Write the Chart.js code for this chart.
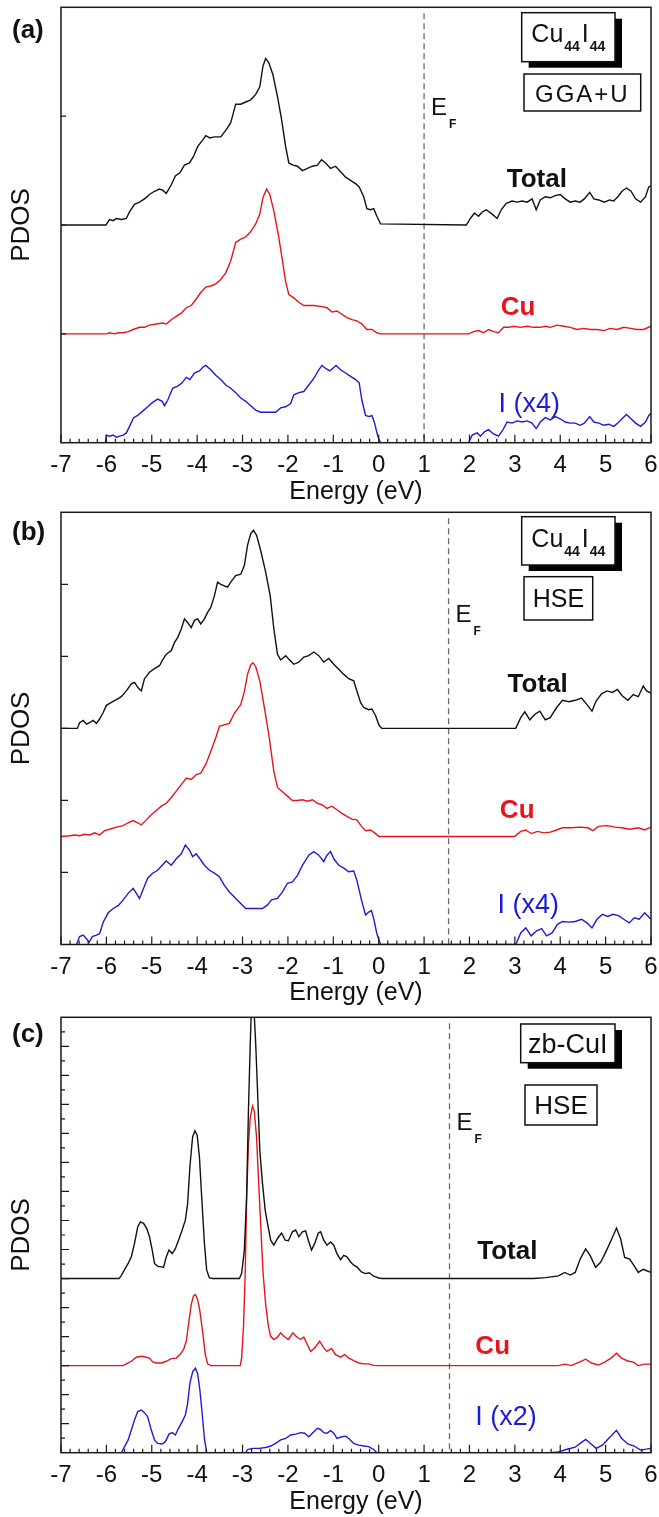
<!DOCTYPE html>
<html>
<head>
<meta charset="utf-8">
<script src="https://cdn.jsdelivr.net/npm/chart.js@4.4.1/dist/chart.umd.min.js"></script>
<style>
html,body{margin:0;padding:0;background:#fff;}
#wrap{position:relative;width:659px;height:1517px;overflow:hidden;background:#fff;}
canvas{position:absolute;left:0;}
</style>
</head>
<body>
<div id="wrap">
<canvas id="ca" width="659" height="505" style="top:0px;width:659px;height:505px"></canvas>
<canvas id="cb" width="659" height="505" style="top:505px;width:659px;height:505px"></canvas>
<canvas id="cc" width="659" height="507" style="top:1010px;width:659px;height:507px"></canvas>
</div>
<script>
// ---------------- DATA (energy in eV, PDOS in arbitrary units, unshifted) ----------------
const energyMin = -7, energyMax = 6;

// Panel (a) Cu44I44, GGA+U
const aTotalE = [-7,-6.01,-5.93,-5.85,-5.78,-5.67,-5.56,-5.49,-5.38,-5.27,-5.16,-5.05,-4.94,-4.83,-4.76,-4.68,-4.57,-4.48,-4.38,-4.28,-4.17,-4.08,-3.99,-3.88,-3.81,-3.72,-3.62,-3.48,-3.37,-3.26,-3.15,-3.04,-2.93,-2.82,-2.71,-2.62,-2.55,-2.49,-2.42,-2.33,-2.23,-2.14,-2.05,-1.98,-1.89,-1.79,-1.68,-1.57,-1.46,-1.35,-1.26,-1.17,-1.06,-0.95,-0.84,-0.73,-0.62,-0.51,-0.43,-0.33,-0.26,-0.18,-0.11,-0.04,0.04,1.93,2.02,2.11,2.20,2.28,2.37,2.50,2.61,2.70,2.81,2.94,3.05,3.16,3.27,3.38,3.47,3.56,3.67,3.78,3.89,4.00,4.11,4.22,4.33,4.44,4.53,4.65,4.74,4.85,4.97,5.09,5.18,5.27,5.36,5.46,5.56,5.66,5.77,5.88,5.95,6.00];
const aTotalV = [0,0,0.05,0.04,0.06,0.05,0.06,0.12,0.19,0.21,0.24,0.28,0.31,0.33,0.32,0.29,0.37,0.45,0.48,0.55,0.57,0.63,0.72,0.78,0.82,0.80,0.81,0.81,0.87,0.94,1.11,1.11,1.13,1.15,1.20,1.27,1.46,1.53,1.49,1.38,1.18,0.97,0.72,0.57,0.55,0.54,0.50,0.52,0.54,0.55,0.60,0.57,0.52,0.54,0.49,0.44,0.41,0.38,0.35,0.26,0.15,0.14,0.15,0.08,0.01,0,0.06,0.11,0.08,0.12,0.14,0.10,0.06,0.14,0.20,0.22,0.21,0.22,0.21,0.24,0.14,0.23,0.26,0.25,0.27,0.28,0.24,0.21,0.22,0.21,0.24,0.30,0.24,0.23,0.21,0.23,0.22,0.26,0.31,0.34,0.31,0.24,0.21,0.26,0.35,0.36];
const aCuE = [-7,-6.00,-5.93,-5.82,-5.74,-5.63,-5.52,-5.41,-5.27,-5.16,-5.05,-4.90,-4.76,-4.68,-4.57,-4.46,-4.35,-4.24,-4.13,-4.02,-3.92,-3.81,-3.70,-3.59,-3.48,-3.37,-3.26,-3.15,-3.04,-2.93,-2.82,-2.71,-2.62,-2.55,-2.47,-2.40,-2.31,-2.21,-2.12,-2.05,-1.98,-1.87,-1.76,-1.65,-1.54,-1.43,-1.25,-1.14,-1.03,-0.92,-0.81,-0.70,-0.59,-0.48,-0.37,-0.26,-0.15,-0.04,0.04,1.98,2.09,2.20,2.31,2.42,2.53,2.64,2.75,2.86,2.97,3.12,3.27,3.41,3.56,3.67,3.78,3.93,4.08,4.22,4.37,4.52,4.66,4.81,4.96,5.10,5.25,5.40,5.55,5.69,5.84,6.00];
const aCuV = [0,0,0.01,0,0.01,0.01,0.02,0.04,0.06,0.06,0.08,0.09,0.10,0.09,0.13,0.16,0.19,0.24,0.26,0.32,0.38,0.43,0.44,0.46,0.50,0.56,0.67,0.84,0.87,0.89,0.94,1.01,1.10,1.25,1.33,1.28,1.13,0.91,0.67,0.48,0.36,0.33,0.29,0.26,0.26,0.26,0.25,0.24,0.20,0.21,0.18,0.15,0.13,0.12,0.09,0.04,0.04,0.01,0,0,0.02,0.03,0.01,0.04,0.02,0.01,0.06,0.06,0.07,0.06,0.07,0.06,0.06,0.07,0.06,0.08,0.07,0.06,0.04,0.05,0.04,0.04,0.03,0.05,0.04,0.06,0.05,0.04,0.04,0.07];
const aIE = [-6.02,-6.00,-5.93,-5.85,-5.78,-5.71,-5.63,-5.56,-5.49,-5.40,-5.31,-5.20,-5.09,-4.98,-4.87,-4.77,-4.72,-4.65,-4.54,-4.43,-4.33,-4.24,-4.16,-4.06,-3.95,-3.86,-3.81,-3.70,-3.59,-3.48,-3.37,-3.26,-3.15,-3.04,-2.93,-2.82,-2.71,-2.60,-2.27,-2.16,-2.05,-1.94,-1.87,-1.76,-1.65,-1.54,-1.43,-1.32,-1.25,-1.16,-1.08,-1.02,-0.94,-0.84,-0.73,-0.62,-0.51,-0.43,-0.37,-0.29,-0.21,-0.15,-0.09,-0.02,0.04,1.98,2.06,2.17,2.24,2.33,2.42,2.53,2.64,2.74,2.83,2.94,3.05,3.16,3.27,3.38,3.47,3.56,3.67,3.78,3.89,4.00,4.11,4.22,4.33,4.44,4.53,4.65,4.74,4.85,4.96,5.07,5.18,5.27,5.36,5.46,5.56,5.66,5.77,5.88,5.95,6.00];
const aIV = [0,0.07,0.06,0.07,0.05,0.06,0.07,0.09,0.15,0.23,0.25,0.29,0.33,0.37,0.40,0.38,0.34,0.39,0.50,0.52,0.55,0.60,0.58,0.64,0.66,0.70,0.71,0.67,0.62,0.58,0.53,0.50,0.46,0.41,0.38,0.34,0.30,0.28,0.28,0.32,0.33,0.36,0.44,0.46,0.47,0.53,0.59,0.67,0.71,0.68,0.66,0.68,0.71,0.67,0.64,0.61,0.58,0.55,0.39,0.25,0.24,0.25,0.18,0.06,0,0,0.07,0.09,0.06,0.10,0.12,0.08,0.06,0.12,0.19,0.18,0.20,0.19,0.20,0.18,0.13,0.19,0.23,0.21,0.24,0.22,0.19,0.18,0.18,0.16,0.18,0.24,0.19,0.18,0.16,0.17,0.15,0.18,0.22,0.26,0.22,0.18,0.15,0.19,0.25,0.27];

// Panel (b) Cu44I44, HSE
const bTotalE = [-7,-6.64,-6.59,-6.51,-6.44,-6.37,-6.29,-6.22,-6.15,-6.07,-6.00,-5.89,-5.78,-5.67,-5.56,-5.45,-5.38,-5.31,-5.23,-5.16,-5.05,-4.94,-4.83,-4.76,-4.68,-4.57,-4.50,-4.43,-4.35,-4.28,-4.21,-4.13,-4.06,-3.99,-3.92,-3.84,-3.77,-3.70,-3.62,-3.55,-3.48,-3.40,-3.33,-3.26,-3.15,-3.04,-2.96,-2.89,-2.82,-2.76,-2.69,-2.60,-2.49,-2.39,-2.31,-2.23,-2.16,-2.05,-1.98,-1.87,-1.76,-1.65,-1.54,-1.43,-1.32,-1.21,-1.10,-0.99,-0.88,-0.77,-0.66,-0.55,-0.48,-0.40,-0.33,-0.22,-0.15,-0.07,0.01,0.07,3.02,3.13,3.22,3.33,3.45,3.55,3.67,3.78,3.92,4.05,4.19,4.33,4.47,4.59,4.70,4.79,4.91,5.03,5.15,5.26,5.37,5.49,5.61,5.72,5.83,5.90,6.00];
const bTotalV = [0,0,0.08,0.11,0.06,0.08,0.11,0.07,0.13,0.22,0.32,0.36,0.40,0.44,0.52,0.62,0.64,0.57,0.52,0.69,0.78,0.83,0.87,0.95,1.03,1.08,1.19,1.26,1.38,1.52,1.47,1.40,1.50,1.52,1.45,1.52,1.61,1.68,1.84,2.03,2.00,1.98,1.96,2.03,2.12,2.14,2.26,2.54,2.70,2.75,2.68,2.47,2.17,1.84,1.38,1.03,0.95,1.01,0.96,0.89,0.92,0.99,1.01,1.06,1.01,0.92,0.97,0.89,0.82,0.75,0.69,0.66,0.52,0.36,0.29,0.26,0.27,0.18,0.04,0,0,0.15,0.23,0.12,0.20,0.24,0.12,0.15,0.29,0.39,0.37,0.39,0.42,0.33,0.24,0.38,0.48,0.52,0.50,0.54,0.45,0.39,0.47,0.44,0.59,0.52,0.49];
const bCuE = [-7,-6.80,-6.69,-6.59,-6.48,-6.37,-6.26,-6.15,-6.04,-5.93,-5.78,-5.63,-5.52,-5.41,-5.31,-5.23,-5.12,-5.01,-4.90,-4.79,-4.68,-4.57,-4.46,-4.35,-4.24,-4.13,-4.02,-3.92,-3.81,-3.70,-3.59,-3.51,-3.40,-3.29,-3.18,-3.11,-3.04,-2.96,-2.89,-2.82,-2.77,-2.71,-2.62,-2.53,-2.42,-2.31,-2.23,-2.12,-2.01,-1.90,-1.79,-1.68,-1.57,-1.46,-1.35,-1.25,-1.14,-1.03,-0.92,-0.81,-0.70,-0.59,-0.48,-0.38,-0.29,-0.18,-0.09,0.01,2.99,3.13,3.24,3.36,3.50,3.64,3.78,3.92,4.05,4.24,4.42,4.61,4.72,4.84,5.03,5.21,5.35,5.53,5.72,5.86,6.00];
const bCuV = [0,0.01,0.02,0.01,0.03,0.02,0.05,0.02,0.08,0.10,0.13,0.15,0.19,0.22,0.19,0.16,0.23,0.30,0.36,0.42,0.46,0.54,0.63,0.72,0.81,0.79,0.86,0.88,1.00,1.18,1.37,1.53,1.55,1.57,1.71,1.77,1.83,2.01,2.25,2.38,2.41,2.36,2.16,1.83,1.41,0.90,0.68,0.62,0.56,0.50,0.50,0.51,0.49,0.51,0.46,0.44,0.39,0.42,0.37,0.32,0.28,0.24,0.23,0.14,0.08,0.09,0.05,0,0,0.07,0.09,0.04,0.07,0.05,0.06,0.09,0.12,0.12,0.13,0.12,0.08,0.14,0.15,0.13,0.12,0.10,0.12,0.09,0.13];
const bIE = [-6.66,-6.59,-6.51,-6.44,-6.38,-6.31,-6.22,-6.15,-6.07,-5.96,-5.85,-5.74,-5.63,-5.52,-5.41,-5.34,-5.27,-5.18,-5.09,-4.98,-4.87,-4.77,-4.68,-4.57,-4.46,-4.35,-4.26,-4.17,-4.10,-4.02,-3.94,-3.84,-3.73,-3.62,-3.51,-3.40,-3.29,-3.15,-3.04,-2.93,-2.56,-2.45,-2.36,-2.23,-2.12,-2.01,-1.90,-1.79,-1.68,-1.54,-1.43,-1.32,-1.21,-1.14,-1.06,-0.99,-0.88,-0.77,-0.66,-0.55,-0.48,-0.38,-0.29,-0.22,-0.16,-0.11,-0.04,0.04,3.02,3.13,3.24,3.36,3.48,3.59,3.70,3.82,3.94,4.05,4.19,4.33,4.47,4.59,4.70,4.81,4.93,5.05,5.16,5.28,5.40,5.52,5.63,5.74,5.86,6.00];
const bIV = [0,0.11,0.13,0.08,0.03,0.11,0.13,0.15,0.31,0.44,0.50,0.54,0.62,0.71,0.78,0.71,0.64,0.78,0.92,0.99,1.03,1.10,1.16,1.10,1.19,1.26,1.38,1.31,1.22,1.26,1.19,1.10,1.03,0.99,0.94,0.82,0.73,0.64,0.57,0.50,0.50,0.55,0.62,0.64,0.73,0.85,0.87,0.96,1.10,1.24,1.29,1.24,1.15,1.24,1.29,1.19,1.10,1.06,1.01,1.02,0.89,0.62,0.41,0.45,0.47,0.36,0.15,0,0,0.16,0.23,0.12,0.19,0.22,0.12,0.16,0.28,0.32,0.31,0.32,0.35,0.30,0.23,0.35,0.42,0.39,0.42,0.40,0.35,0.30,0.37,0.35,0.44,0.35];

// Panel (c) zb-CuI, HSE
const cTotalE = [-7,-5.72,-5.67,-5.60,-5.52,-5.45,-5.38,-5.31,-5.25,-5.18,-5.11,-5.05,-4.99,-4.94,-4.87,-4.79,-4.74,-4.68,-4.62,-4.55,-4.48,-4.41,-4.33,-4.26,-4.21,-4.16,-4.10,-4.05,-4.00,-3.95,-3.90,-3.84,-3.79,-3.73,-3.66,-3.07,-3.02,-2.96,-2.91,-2.87,-2.83,-2.78,-2.74,-2.71,-2.67,-2.62,-2.56,-2.50,-2.45,-2.38,-2.31,-2.23,-2.14,-2.06,-1.99,-1.90,-1.83,-1.76,-1.68,-1.61,-1.55,-1.48,-1.41,-1.33,-1.28,-1.21,-1.14,-1.06,-0.99,-0.92,-0.84,-0.77,-0.70,-0.62,-0.55,-0.48,-0.38,-0.29,-0.21,-0.11,0.00,0.07,3.41,3.68,3.96,4.10,4.22,4.33,4.44,4.56,4.66,4.78,4.89,5.00,5.12,5.24,5.33,5.42,5.53,5.63,5.72,5.83,5.92,6.00];
const cTotalV = [0,0,0.11,0.31,0.52,0.75,1.21,1.78,1.95,1.90,1.72,1.44,0.98,0.52,0.42,0.40,0.38,0.75,0.98,0.86,1.03,1.32,1.67,2.01,2.58,3.85,4.88,5.09,4.94,4.19,2.81,1.21,0.29,0.02,0,0,0.17,0.98,2.81,5.80,8.10,10.5,9.02,8.10,6.49,4.42,3.27,2.35,1.90,1.32,1.15,1.38,1.57,1.32,1.30,1.61,1.67,1.44,1.61,1.64,1.32,0.98,1.21,1.57,1.61,1.32,1.15,1.26,1.15,0.86,0.65,0.80,0.75,0.57,0.46,0.40,0.23,0.17,0.20,0.08,0.02,0,0,0.03,0.09,0.21,0.12,0.21,0.67,1.02,0.79,0.39,0.56,0.90,1.31,1.74,1.37,0.73,0.67,0.44,0.21,0.32,0.26,0.21];
const cCuE = [-7,-5.63,-5.56,-5.45,-5.34,-5.23,-5.12,-5.05,-4.98,-4.90,-4.79,-4.68,-4.57,-4.46,-4.38,-4.30,-4.24,-4.19,-4.13,-4.08,-4.04,-3.99,-3.94,-3.88,-3.82,-3.77,-3.70,-3.05,-3.02,-2.98,-2.94,-2.91,-2.87,-2.83,-2.78,-2.74,-2.69,-2.65,-2.60,-2.55,-2.49,-2.43,-2.38,-2.31,-2.23,-2.16,-2.09,-1.99,-1.89,-1.82,-1.72,-1.65,-1.57,-1.50,-1.41,-1.30,-1.21,-1.14,-1.04,-0.95,-0.84,-0.75,-0.66,-0.55,-0.44,-0.33,-0.22,-0.11,-0.02,3.96,4.10,4.24,4.42,4.56,4.70,4.84,4.98,5.12,5.24,5.35,5.49,5.61,5.72,5.86,6.00];
const cCuV = [0,0,0.06,0.15,0.29,0.32,0.29,0.26,0.13,0.09,0.09,0.15,0.24,0.26,0.38,0.55,0.84,1.42,2.11,2.40,2.45,2.28,1.88,1.18,0.38,0.06,0,0,0.26,1.30,3.25,5.78,7.62,8.54,8.94,8.76,7.85,6.47,4.86,3.25,2.10,1.36,1.01,0.90,0.98,1.13,1.01,0.90,1.13,1.01,0.90,0.98,0.72,0.49,0.61,0.84,0.61,0.49,0.59,0.38,0.29,0.38,0.26,0.17,0.09,0.06,0.06,0.01,0,0,0.05,0,0.12,0.22,0.08,0.02,0.12,0.26,0.43,0.26,0.16,0.12,0,0.05,0.05];
const cIE = [-5.67,-5.60,-5.52,-5.45,-5.38,-5.31,-5.23,-5.16,-5.09,-5.01,-4.94,-4.87,-4.77,-4.70,-4.62,-4.55,-4.48,-4.41,-4.33,-4.26,-4.21,-4.16,-4.10,-4.04,-3.99,-3.94,-3.89,-3.84,-3.79,-2.93,-2.89,-2.78,-2.64,-2.49,-2.38,-2.27,-2.16,-2.05,-1.94,-1.83,-1.72,-1.63,-1.54,-1.45,-1.35,-1.28,-1.21,-1.14,-1.06,-0.99,-0.92,-0.81,-0.73,-0.66,-0.55,-0.44,-0.33,-0.22,-0.11,-0.04,3.78,3.96,4.15,4.33,4.44,4.56,4.68,4.79,4.93,5.07,5.24,5.35,5.49,5.63,5.77,6.00];
const cIV = [0,0.21,0.44,0.78,1.13,1.42,1.47,1.38,1.24,0.78,0.44,0.32,0.30,0.38,0.64,0.69,0.61,0.84,1.07,1.30,1.70,2.39,2.79,2.91,2.73,2.16,1.36,0.49,0,0,0.11,0.15,0.15,0.18,0.23,0.32,0.44,0.49,0.61,0.64,0.69,0.67,0.55,0.69,0.84,0.80,0.69,0.67,0.76,0.67,0.49,0.55,0.57,0.49,0.32,0.26,0.23,0.21,0.11,0,0,0.03,0.12,0.19,0.32,0.46,0.30,0.15,0.26,0.50,0.77,0.50,0.30,0.23,0.09,0.15];

const fermiLevels = [1.0, 1.54, 1.56];
const seriesNames = ['Total', 'Cu', 'I'];

// ---------------- STYLE / LAYOUT ----------------
const FONT = "'Liberation Sans', Arial, Helvetica, sans-serif";
const COL = {Total: '#111111', Cu: '#e8141c', I: '#1c1cd6'};
const isInt = v => Math.abs(v - Math.round(v)) < 1e-6;

const panels = [
  {
    id: 'ca', tag: '(a)', tagY: 31, ymax: 4, ystep: 1, yMajorLen: 5,
    padTop: 7.3, xAxisH: 62.3, titlePadBottom: 0.8, ef: fermiLevels[0], efY: 108,
    series: [
      {E: aTotalE, V: aTotalV, off: 2, color: COL.Total},
      {E: aCuE, V: aCuV, off: 1, color: COL.Cu},
      {E: aIE, V: aIV, off: 0, color: COL.I}
    ],
    labels: [
      {t: 'Total', e: 2.82, v: 2.35, color: COL.Total, font: 'bold 26px ' + FONT},
      {t: 'Cu', e: 2.69, v: 1.17, color: COL.Cu, font: 'bold 26px ' + FONT},
      {t: 'I (x4)', e: 2.64, v: 0.28, color: COL.I, font: '27px ' + FONT}
    ],
    boxes: [
      {dx: 460.7, dy: 5.4, w: 93.3, h: 49, shadow: true, base: 29, segs: [
        {t: 'Cu', font: '25px ' + FONT, gap: 1},
        {t: '44', font: 'bold 14px ' + FONT, dy: 9, gap: 2},
        {t: 'I', font: '25px ' + FONT, gap: 1},
        {t: '44', font: 'bold 14px ' + FONT, dy: 9}]},
      {dx: 463, dy: 66.7, w: 116.7, h: 37, shadow: false, base: 27.5, segs: [
        {t: 'GGA+U', font: '24px ' + FONT, ls: '2px'}]}
    ]
  },
  {
    id: 'cb', tag: '(b)', tagY: 28, ymax: 6, ystep: 1, yMajorLen: 7,
    padTop: 7.3, xAxisH: 65.5, titlePadBottom: 4, ef: fermiLevels[1], efY: 110,
    series: [
      {E: bTotalE, V: bTotalV, off: 3, color: COL.Total},
      {E: bCuE, V: bCuV, off: 1.5, color: COL.Cu},
      {E: bIE, V: bIV, off: 0, color: COL.I}
    ],
    labels: [
      {t: 'Total', e: 2.84, v: 3.51, color: COL.Total, font: 'bold 26px ' + FONT},
      {t: 'Cu', e: 2.67, v: 1.76, color: COL.Cu, font: 'bold 26px ' + FONT},
      {t: 'I (x4)', e: 2.62, v: 0.44, color: COL.I, font: '27px ' + FONT}
    ],
    boxes: [
      {dx: 460.7, dy: 4.4, w: 93.3, h: 48.3, shadow: true, base: 30, segs: [
        {t: 'Cu', font: '25px ' + FONT, gap: 1},
        {t: '44', font: 'bold 14px ' + FONT, dy: 9, gap: 2},
        {t: 'I', font: '25px ' + FONT, gap: 1},
        {t: '44', font: 'bold 14px ' + FONT, dy: 9}]},
      {dx: 463, dy: 64.4, w: 68.7, h: 43.3, shadow: false, base: 30.5, segs: [
        {t: 'HSE', font: '25px ' + FONT}]}
    ]
  },
  {
    id: 'cc', tag: '(c)', tagY: 25, ymax: 15, ystep: 0.5, yMajorLen: 8,
    padTop: 7.3, xAxisH: 64.3, titlePadBottom: 2.8, ef: fermiLevels[2], efY: 113,
    series: [
      {E: cTotalE, V: cTotalV, off: 6, color: COL.Total},
      {E: cCuE, V: cCuV, off: 3, color: COL.Cu},
      {E: cIE, V: cIV, off: 0, color: COL.I}
    ],
    labels: [
      {t: 'Total', e: 2.17, v: 6.69, color: COL.Total, font: 'bold 26px ' + FONT},
      {t: 'Cu', e: 2.13, v: 3.41, color: COL.Cu, font: 'bold 26px ' + FONT},
      {t: 'I (x2)', e: 2.13, v: 0.95, color: COL.I, font: '27px ' + FONT}
    ],
    boxes: [
      {dx: 459.7, dy: 6.7, w: 94.3, h: 38.7, shadow: true, base: 29, segs: [
        {t: 'zb-CuI', font: '27px ' + FONT}]},
      {dx: 464, dy: 67.7, w: 72, h: 40, shadow: false, base: 28.5, segs: [
        {t: 'HSE', font: '26px ' + FONT}]}
    ]
  }
];

function drawRich(ctx, segs, cx, baseY) {
  let total = 0;
  const widths = segs.map(s => {
    ctx.font = s.font;
    ctx.letterSpacing = s.ls || '0px';
    const w = ctx.measureText(s.t).width;
    total += w + (s.gap || 0);
    return w;
  });
  let x = cx - total / 2;
  segs.forEach((s, i) => {
    ctx.font = s.font;
    ctx.letterSpacing = s.ls || '0px';
    ctx.fillText(s.t, x, baseY + (s.dy || 0));
    x += widths[i] + (s.gap || 0);
  });
  ctx.letterSpacing = '0px';
}

function makeDecor(p) {
  return {
    id: 'decor_' + p.id,
    beforeDatasetsDraw(chart) {
      const {ctx, chartArea: a, scales: {x}} = chart;
      const xe = x.getPixelForValue(p.ef);
      ctx.save();
      ctx.strokeStyle = '#6a6a6a';
      ctx.lineWidth = 1.3;
      ctx.setLineDash([6, 4]);
      ctx.beginPath();
      ctx.moveTo(xe, a.top + 6);
      ctx.lineTo(xe, a.bottom);
      ctx.stroke();
      ctx.restore();
    },
    afterDatasetsDraw(chart) {
      const {ctx, chartArea: a, scales: {x, y}} = chart;
      ctx.save();
      ctx.setLineDash([]);
      ctx.strokeStyle = '#1a1a1a';
      ctx.lineWidth = 1.5;
      ctx.strokeRect(a.left, a.top, a.right - a.left, a.bottom - a.top);
      ctx.lineWidth = 1.2;
      ctx.beginPath();
      x.ticks.forEach(t => {
        const px = x.getPixelForValue(t.value);
        const len = isInt(t.value) ? 8 : 4;
        ctx.moveTo(px, a.bottom);
        ctx.lineTo(px, a.bottom - len);
      });
      y.ticks.forEach(t => {
        if (t.value <= 0 || t.value >= p.ymax) return;
        const py = y.getPixelForValue(t.value);
        const len = isInt(t.value) ? p.yMajorLen : 4;
        ctx.moveTo(a.left, py);
        ctx.lineTo(a.left + len, py);
      });
      ctx.stroke();
      const xe = x.getPixelForValue(p.ef);
      ctx.fillStyle = '#111';
      ctx.textAlign = 'left';
      ctx.textBaseline = 'alphabetic';
      ctx.font = '24px ' + FONT;
      ctx.fillText('E', xe + 7, a.top + p.efY);
      ctx.font = 'bold 12px ' + FONT;
      ctx.fillText('F', xe + 25, a.top + p.efY + 13);
      p.labels.forEach(l => {
        ctx.font = l.font;
        ctx.fillStyle = l.color;
        ctx.fillText(l.t, x.getPixelForValue(l.e), y.getPixelForValue(l.v));
      });
      p.boxes.forEach(b => {
        const bx = a.left + b.dx, by = a.top + b.dy;
        if (b.shadow) {
          ctx.fillStyle = '#000';
          ctx.fillRect(bx + 7, by + 6, b.w, b.h);
        }
        ctx.fillStyle = '#fff';
        ctx.fillRect(bx, by, b.w, b.h);
        ctx.strokeStyle = '#111';
        ctx.lineWidth = 1.5;
        ctx.strokeRect(bx, by, b.w, b.h);
        ctx.fillStyle = '#111';
        drawRich(ctx, b.segs, bx + b.w / 2, by + b.base);
      });
      ctx.fillStyle = '#111';
      ctx.font = 'bold 26px ' + FONT;
      ctx.fillText(p.tag, 12, a.top + p.tagY);
      ctx.restore();
    }
  };
}

function buildPanel(p) {
  const datasets = p.series.map((s, k) => {
    const n = Math.min(s.E.length, s.V.length);
    const pts = [];
    for (let i = 0; i < n; i++) pts.push({x: s.E[i], y: s.V[i] + s.off});
    return {
      label: seriesNames[k],
      data: pts,
      borderColor: s.color,
      backgroundColor: s.color,
      borderWidth: 1.4,
      pointRadius: 0,
      pointHoverRadius: 0,
      tension: 0,
      fill: false
    };
  });
  return new Chart(document.getElementById(p.id), {
    type: 'line',
    data: {datasets},
    options: {
      responsive: false,
      animation: false,
      devicePixelRatio: 1,
      events: [],
      layout: {padding: {top: p.padTop, right: 8, left: 0, bottom: 0}},
      plugins: {legend: {display: false}, tooltip: {enabled: false}, title: {display: false}},
      scales: {
        x: {
          type: 'linear', min: energyMin, max: energyMax,
          ticks: {
            stepSize: 0.2, autoSkip: false, maxRotation: 0, minRotation: 0,
            padding: 0.5, color: '#111',
            font: {family: FONT, size: 24},
            callback: v => isInt(v) ? String(Math.round(v)) : ''
          },
          grid: {display: false, drawTicks: true, tickLength: 7.5},
          border: {display: false},
          title: {display: true, text: 'Energy (eV)', color: '#111',
                  font: {family: FONT, size: 25, lineHeight: 1},
                  padding: {top: 0, bottom: p.titlePadBottom}},
          afterFit: s => { s.height = p.xAxisH; s.paddingLeft = 0; s.paddingRight = 0; }
        },
        y: {
          type: 'linear', min: 0, max: p.ymax,
          ticks: {stepSize: p.ystep, display: false},
          grid: {display: false, drawTicks: false},
          border: {display: false},
          title: {display: true, text: 'PDOS', color: '#111',
                  font: {family: FONT, size: 26, lineHeight: 1.2},
                  padding: {top: 6.4, bottom: 0}},
          afterFit: s => { s.width = 61; s.paddingTop = 0; s.paddingBottom = 0; }
        }
      }
    },
    plugins: [makeDecor(p)]
  });
}

panels.forEach(buildPanel);
</script>
</body>
</html>
